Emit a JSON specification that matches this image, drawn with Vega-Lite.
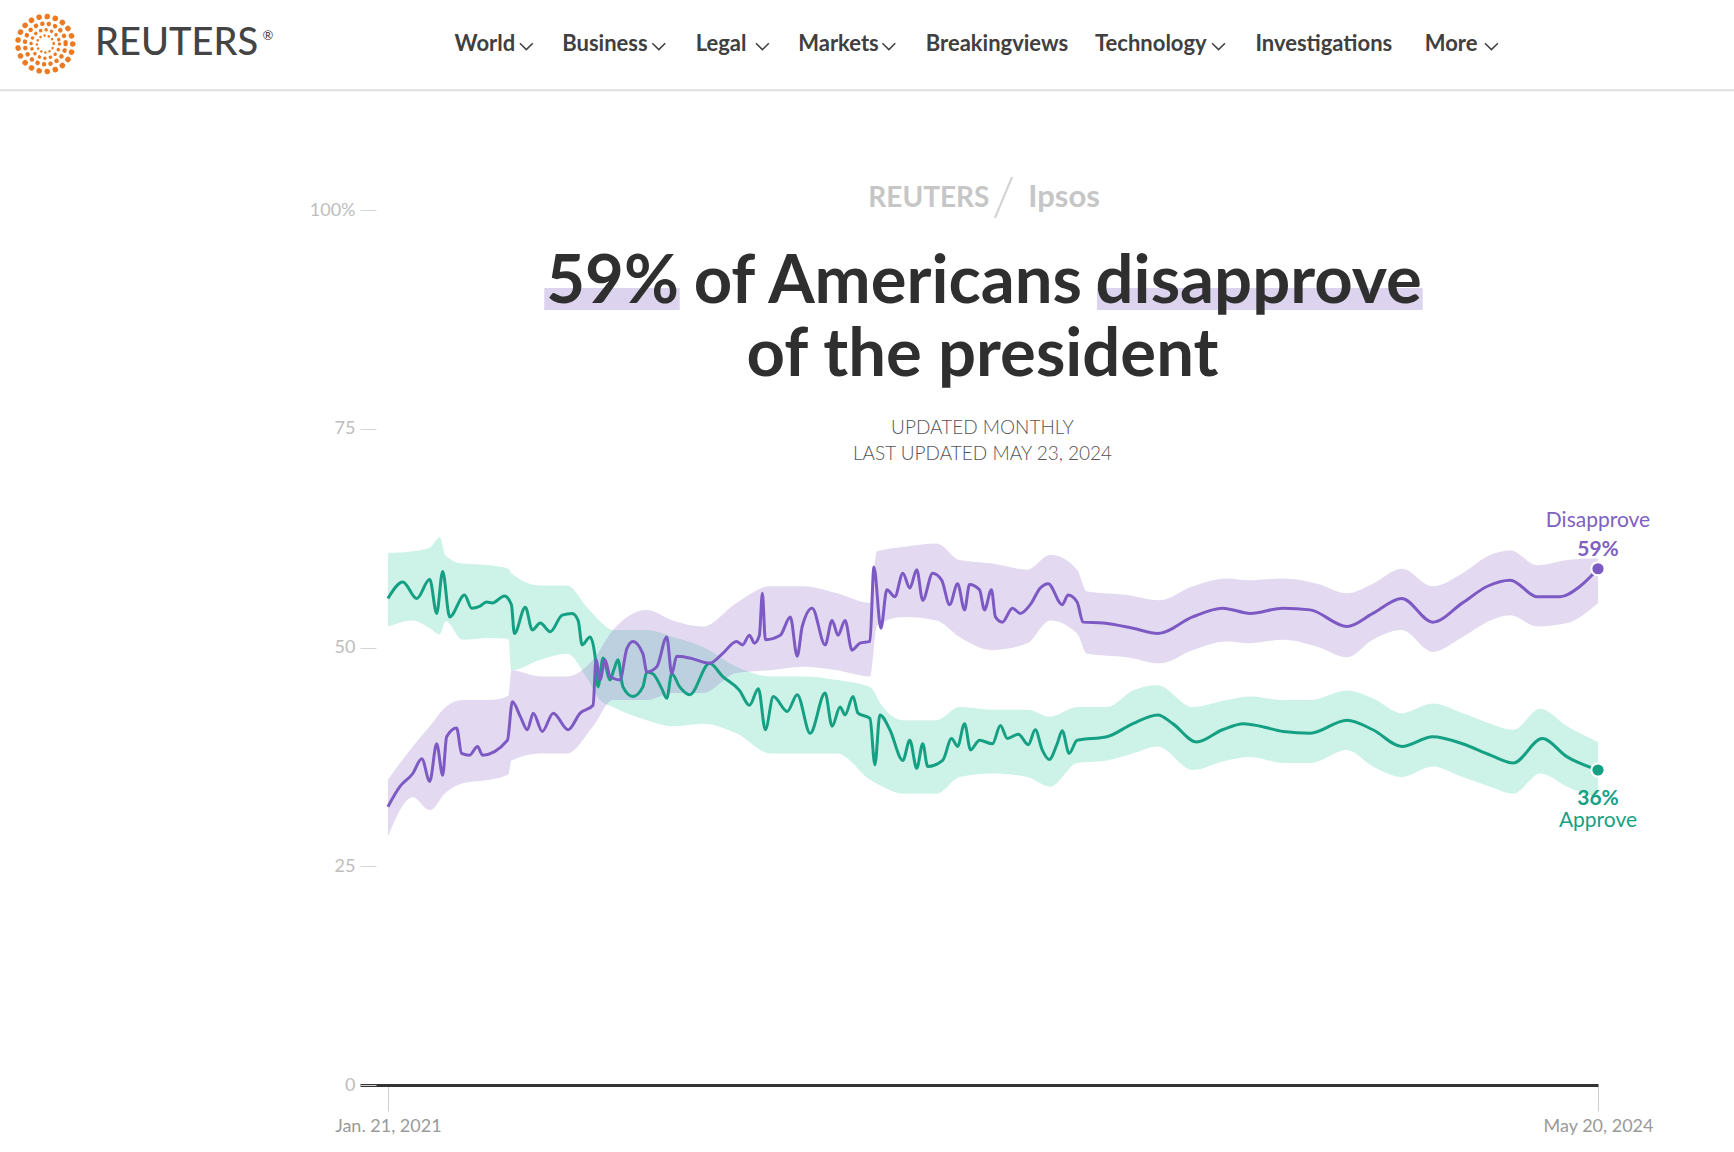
{
  "$schema": "https://vega.github.io/schema/vega-lite/v6.json",
  "width": 1238,
  "height": 875,
  "autosize": {"type": "none"},
  "padding": {"left": 360, "top": 210, "right": 136, "bottom": 67},
  "background": "white",
  "config": {"font": "Lato", "view": {"stroke": null}},
  "datasets": {
    "approve": [
      {"date": "2021-01-21", "value": 55.6}, {"date": "2021-02-05", "value": 57.5}, {"date": "2021-02-19", "value": 55.6},
      {"date": "2021-03-04", "value": 57.8}, {"date": "2021-03-11", "value": 53.9}, {"date": "2021-03-17", "value": 58.7},
      {"date": "2021-03-24", "value": 53.5}, {"date": "2021-04-08", "value": 56.0}, {"date": "2021-04-15", "value": 54.5},
      {"date": "2021-04-23", "value": 54.7}, {"date": "2021-04-30", "value": 55.2}, {"date": "2021-05-06", "value": 55.1},
      {"date": "2021-05-18", "value": 55.9}, {"date": "2021-05-25", "value": 54.9}, {"date": "2021-05-28", "value": 51.6},
      {"date": "2021-06-08", "value": 54.6}, {"date": "2021-06-15", "value": 52.0}, {"date": "2021-06-23", "value": 52.8},
      {"date": "2021-07-03", "value": 51.8}, {"date": "2021-07-15", "value": 53.7}, {"date": "2021-07-25", "value": 53.9},
      {"date": "2021-07-31", "value": 53.1}, {"date": "2021-08-04", "value": 50.3}, {"date": "2021-08-12", "value": 51.2},
      {"date": "2021-08-17", "value": 49.0}, {"date": "2021-08-20", "value": 45.5}, {"date": "2021-08-25", "value": 48.8},
      {"date": "2021-09-01", "value": 46.3}, {"date": "2021-09-05", "value": 47.5}, {"date": "2021-09-09", "value": 48.6},
      {"date": "2021-09-14", "value": 45.5}, {"date": "2021-09-24", "value": 44.4}, {"date": "2021-10-04", "value": 45.5},
      {"date": "2021-10-08", "value": 47.2}, {"date": "2021-10-14", "value": 47.0}, {"date": "2021-10-23", "value": 45.3},
      {"date": "2021-10-28", "value": 44.2}, {"date": "2021-11-02", "value": 47.0}, {"date": "2021-11-10", "value": 45.5},
      {"date": "2021-11-20", "value": 44.6}, {"date": "2021-12-10", "value": 48.2}, {"date": "2021-12-23", "value": 46.7},
      {"date": "2022-01-09", "value": 45.1}, {"date": "2022-01-19", "value": 43.4}, {"date": "2022-01-28", "value": 45.3},
      {"date": "2022-02-04", "value": 40.6}, {"date": "2022-02-12", "value": 44.4}, {"date": "2022-02-26", "value": 42.7},
      {"date": "2022-03-08", "value": 44.6}, {"date": "2022-03-21", "value": 40.2}, {"date": "2022-04-05", "value": 44.8},
      {"date": "2022-04-12", "value": 41.0}, {"date": "2022-04-20", "value": 43.2}, {"date": "2022-04-25", "value": 42.3},
      {"date": "2022-05-03", "value": 44.4}, {"date": "2022-05-08", "value": 42.5}, {"date": "2022-05-20", "value": 41.9},
      {"date": "2022-05-25", "value": 36.6}, {"date": "2022-05-30", "value": 42.3}, {"date": "2022-06-09", "value": 40.6},
      {"date": "2022-06-22", "value": 37.1}, {"date": "2022-06-29", "value": 39.4}, {"date": "2022-07-06", "value": 36.2},
      {"date": "2022-07-12", "value": 39.0}, {"date": "2022-07-17", "value": 36.4}, {"date": "2022-08-01", "value": 37.1},
      {"date": "2022-08-10", "value": 39.6}, {"date": "2022-08-16", "value": 38.7}, {"date": "2022-08-23", "value": 41.3},
      {"date": "2022-08-29", "value": 38.3}, {"date": "2022-09-07", "value": 39.4}, {"date": "2022-09-20", "value": 39.0},
      {"date": "2022-09-28", "value": 41.1}, {"date": "2022-10-05", "value": 39.6}, {"date": "2022-10-16", "value": 40.1},
      {"date": "2022-10-26", "value": 38.9}, {"date": "2022-11-02", "value": 40.6}, {"date": "2022-11-09", "value": 38.3},
      {"date": "2022-11-16", "value": 37.2}, {"date": "2022-11-24", "value": 39.0}, {"date": "2022-11-29", "value": 40.5},
      {"date": "2022-12-06", "value": 37.9}, {"date": "2022-12-14", "value": 39.4}, {"date": "2023-01-13", "value": 39.8},
      {"date": "2023-02-08", "value": 41.3}, {"date": "2023-03-05", "value": 42.3}, {"date": "2023-03-20", "value": 41.3},
      {"date": "2023-04-13", "value": 39.2}, {"date": "2023-05-09", "value": 40.6}, {"date": "2023-05-30", "value": 41.3},
      {"date": "2023-06-16", "value": 41.0}, {"date": "2023-07-09", "value": 40.4}, {"date": "2023-08-05", "value": 40.2},
      {"date": "2023-09-11", "value": 41.7}, {"date": "2023-10-07", "value": 40.6}, {"date": "2023-11-05", "value": 38.7},
      {"date": "2023-12-06", "value": 39.8}, {"date": "2024-01-05", "value": 39.0}, {"date": "2024-02-02", "value": 37.7},
      {"date": "2024-02-25", "value": 36.8}, {"date": "2024-03-25", "value": 39.6}, {"date": "2024-04-19", "value": 37.5},
      {"date": "2024-05-20", "value": 36.0}
    ],
    "disapprove": [
      {"date": "2021-01-21", "value": 31.8}, {"date": "2021-02-02", "value": 34.1}, {"date": "2021-02-15", "value": 35.6},
      {"date": "2021-02-24", "value": 37.3}, {"date": "2021-03-04", "value": 34.7}, {"date": "2021-03-11", "value": 39.0},
      {"date": "2021-03-17", "value": 35.4}, {"date": "2021-03-21", "value": 39.8}, {"date": "2021-03-31", "value": 40.8},
      {"date": "2021-04-05", "value": 37.9}, {"date": "2021-04-13", "value": 37.7}, {"date": "2021-04-21", "value": 38.7},
      {"date": "2021-04-26", "value": 37.7}, {"date": "2021-05-21", "value": 39.4}, {"date": "2021-05-26", "value": 43.8},
      {"date": "2021-06-03", "value": 42.1}, {"date": "2021-06-10", "value": 40.6}, {"date": "2021-06-16", "value": 42.5},
      {"date": "2021-06-25", "value": 40.4}, {"date": "2021-07-06", "value": 42.5}, {"date": "2021-07-21", "value": 40.6},
      {"date": "2021-08-02", "value": 42.5}, {"date": "2021-08-15", "value": 43.4}, {"date": "2021-08-18", "value": 48.6},
      {"date": "2021-08-22", "value": 46.3}, {"date": "2021-08-27", "value": 48.6}, {"date": "2021-09-01", "value": 46.7},
      {"date": "2021-09-11", "value": 46.3}, {"date": "2021-09-18", "value": 49.9}, {"date": "2021-09-24", "value": 50.7},
      {"date": "2021-10-04", "value": 49.3}, {"date": "2021-10-08", "value": 47.2}, {"date": "2021-10-18", "value": 47.8},
      {"date": "2021-10-28", "value": 51.2}, {"date": "2021-11-02", "value": 47.0}, {"date": "2021-11-07", "value": 49.0},
      {"date": "2021-11-20", "value": 48.8}, {"date": "2021-12-10", "value": 48.2}, {"date": "2021-12-23", "value": 49.3},
      {"date": "2022-01-06", "value": 50.7}, {"date": "2022-01-12", "value": 50.3}, {"date": "2022-01-19", "value": 51.4},
      {"date": "2022-01-24", "value": 50.5}, {"date": "2022-01-29", "value": 51.4}, {"date": "2022-02-01", "value": 56.2},
      {"date": "2022-02-04", "value": 50.9}, {"date": "2022-02-19", "value": 51.4}, {"date": "2022-03-01", "value": 53.5},
      {"date": "2022-03-08", "value": 49.0}, {"date": "2022-03-13", "value": 52.4}, {"date": "2022-03-23", "value": 54.5},
      {"date": "2022-04-05", "value": 50.3}, {"date": "2022-04-12", "value": 53.1}, {"date": "2022-04-18", "value": 51.4},
      {"date": "2022-04-25", "value": 53.1}, {"date": "2022-05-02", "value": 49.7}, {"date": "2022-05-10", "value": 50.5},
      {"date": "2022-05-20", "value": 50.7}, {"date": "2022-05-24", "value": 59.2}, {"date": "2022-05-31", "value": 52.2},
      {"date": "2022-06-06", "value": 56.6}, {"date": "2022-06-14", "value": 55.8}, {"date": "2022-06-22", "value": 58.5},
      {"date": "2022-06-29", "value": 56.8}, {"date": "2022-07-06", "value": 58.9}, {"date": "2022-07-12", "value": 55.4},
      {"date": "2022-07-22", "value": 58.5}, {"date": "2022-07-31", "value": 57.7}, {"date": "2022-08-08", "value": 54.9},
      {"date": "2022-08-16", "value": 57.3}, {"date": "2022-08-23", "value": 54.3}, {"date": "2022-08-28", "value": 57.2},
      {"date": "2022-09-07", "value": 56.6}, {"date": "2022-09-12", "value": 54.3}, {"date": "2022-09-19", "value": 56.6},
      {"date": "2022-09-23", "value": 53.5}, {"date": "2022-09-30", "value": 52.9}, {"date": "2022-10-10", "value": 54.5},
      {"date": "2022-10-18", "value": 53.9}, {"date": "2022-10-28", "value": 54.9}, {"date": "2022-11-07", "value": 56.8},
      {"date": "2022-11-15", "value": 57.3}, {"date": "2022-11-29", "value": 54.9}, {"date": "2022-12-05", "value": 56.0},
      {"date": "2022-12-14", "value": 55.2}, {"date": "2022-12-20", "value": 52.9}, {"date": "2023-01-09", "value": 52.8},
      {"date": "2023-02-08", "value": 52.2}, {"date": "2023-03-05", "value": 51.6}, {"date": "2023-04-09", "value": 53.5},
      {"date": "2023-05-09", "value": 54.5}, {"date": "2023-06-06", "value": 53.9}, {"date": "2023-07-09", "value": 54.5},
      {"date": "2023-08-05", "value": 54.3}, {"date": "2023-09-11", "value": 52.4}, {"date": "2023-10-07", "value": 53.9},
      {"date": "2023-11-05", "value": 55.6}, {"date": "2023-12-06", "value": 52.9}, {"date": "2024-01-05", "value": 55.1},
      {"date": "2024-01-30", "value": 57.0}, {"date": "2024-02-22", "value": 57.7}, {"date": "2024-03-20", "value": 55.8},
      {"date": "2024-04-12", "value": 55.8}, {"date": "2024-05-02", "value": 57.0}, {"date": "2024-05-20", "value": 59.0}
    ],
    "approve_band": [
      {"date": "2021-01-21", "lo": 52.4, "hi": 60.8}, {"date": "2021-02-15", "lo": 53.1, "hi": 61.0},
      {"date": "2021-03-04", "lo": 52.2, "hi": 61.4}, {"date": "2021-03-14", "lo": 51.5, "hi": 62.6},
      {"date": "2021-03-20", "lo": 53.0, "hi": 60.5}, {"date": "2021-04-06", "lo": 50.9, "hi": 59.6},
      {"date": "2021-05-03", "lo": 51.1, "hi": 59.4}, {"date": "2021-05-22", "lo": 51.0, "hi": 59.0},
      {"date": "2021-05-25", "lo": 47.4, "hi": 58.5}, {"date": "2021-06-23", "lo": 48.6, "hi": 57.1},
      {"date": "2021-07-20", "lo": 49.3, "hi": 57.1}, {"date": "2021-08-09", "lo": 46.5, "hi": 54.6},
      {"date": "2021-08-22", "lo": 44.0, "hi": 53.0}, {"date": "2021-09-04", "lo": 43.2, "hi": 52.0},
      {"date": "2021-10-08", "lo": 41.7, "hi": 52.0}, {"date": "2021-11-03", "lo": 41.0, "hi": 51.2},
      {"date": "2021-12-03", "lo": 41.3, "hi": 50.1}, {"date": "2022-01-06", "lo": 40.2, "hi": 47.8},
      {"date": "2022-02-09", "lo": 37.9, "hi": 46.7}, {"date": "2022-03-14", "lo": 37.9, "hi": 46.7},
      {"date": "2022-04-17", "lo": 37.9, "hi": 46.3}, {"date": "2022-05-20", "lo": 34.9, "hi": 45.5},
      {"date": "2022-06-02", "lo": 34.1, "hi": 43.2}, {"date": "2022-06-22", "lo": 33.3, "hi": 41.7},
      {"date": "2022-07-26", "lo": 33.3, "hi": 41.7}, {"date": "2022-08-18", "lo": 35.2, "hi": 43.2},
      {"date": "2022-09-20", "lo": 35.6, "hi": 42.9}, {"date": "2022-10-25", "lo": 35.2, "hi": 42.9},
      {"date": "2022-11-17", "lo": 34.1, "hi": 42.1}, {"date": "2022-12-14", "lo": 36.8, "hi": 43.2},
      {"date": "2023-01-13", "lo": 37.1, "hi": 43.2}, {"date": "2023-02-08", "lo": 37.9, "hi": 45.1},
      {"date": "2023-03-05", "lo": 38.7, "hi": 45.7}, {"date": "2023-04-09", "lo": 36.0, "hi": 43.2},
      {"date": "2023-05-13", "lo": 37.1, "hi": 44.0}, {"date": "2023-06-06", "lo": 37.5, "hi": 44.4},
      {"date": "2023-07-09", "lo": 36.8, "hi": 44.0}, {"date": "2023-08-05", "lo": 36.8, "hi": 44.0},
      {"date": "2023-09-11", "lo": 38.3, "hi": 45.1}, {"date": "2023-10-07", "lo": 36.4, "hi": 44.2},
      {"date": "2023-11-05", "lo": 35.2, "hi": 42.5}, {"date": "2023-12-06", "lo": 36.4, "hi": 43.6},
      {"date": "2024-01-05", "lo": 35.2, "hi": 42.5}, {"date": "2024-02-02", "lo": 34.1, "hi": 41.3},
      {"date": "2024-02-25", "lo": 33.3, "hi": 40.6}, {"date": "2024-03-23", "lo": 35.6, "hi": 43.0},
      {"date": "2024-04-19", "lo": 34.1, "hi": 41.0}, {"date": "2024-05-20", "lo": 32.8, "hi": 39.2}
    ],
    "disapprove_band": [
      {"date": "2021-01-21", "lo": 28.4, "hi": 34.9}, {"date": "2021-02-15", "lo": 32.9, "hi": 38.7},
      {"date": "2021-03-04", "lo": 31.4, "hi": 41.0}, {"date": "2021-03-20", "lo": 33.4, "hi": 43.2},
      {"date": "2021-04-06", "lo": 34.5, "hi": 44.0}, {"date": "2021-05-03", "lo": 34.9, "hi": 44.0},
      {"date": "2021-05-22", "lo": 35.5, "hi": 44.5}, {"date": "2021-05-25", "lo": 37.1, "hi": 47.4},
      {"date": "2021-06-23", "lo": 37.9, "hi": 46.7}, {"date": "2021-07-20", "lo": 37.9, "hi": 46.7},
      {"date": "2021-08-15", "lo": 41.0, "hi": 48.6}, {"date": "2021-09-04", "lo": 44.0, "hi": 52.0},
      {"date": "2021-10-08", "lo": 44.0, "hi": 54.3}, {"date": "2021-11-03", "lo": 44.8, "hi": 53.1},
      {"date": "2021-12-03", "lo": 44.8, "hi": 52.4}, {"date": "2022-01-06", "lo": 47.1, "hi": 55.1},
      {"date": "2022-02-09", "lo": 47.4, "hi": 57.0}, {"date": "2022-03-14", "lo": 47.8, "hi": 57.0},
      {"date": "2022-04-17", "lo": 47.4, "hi": 56.2}, {"date": "2022-05-20", "lo": 46.7, "hi": 55.1},
      {"date": "2022-05-27", "lo": 52.5, "hi": 61.0}, {"date": "2022-06-22", "lo": 53.5, "hi": 61.5},
      {"date": "2022-07-26", "lo": 53.1, "hi": 61.9}, {"date": "2022-08-18", "lo": 51.2, "hi": 60.0},
      {"date": "2022-09-20", "lo": 49.7, "hi": 59.6}, {"date": "2022-10-25", "lo": 50.5, "hi": 58.9},
      {"date": "2022-11-17", "lo": 53.1, "hi": 60.6}, {"date": "2022-12-14", "lo": 51.6, "hi": 58.9},
      {"date": "2022-12-24", "lo": 49.3, "hi": 56.4}, {"date": "2023-02-02", "lo": 48.9, "hi": 56.0},
      {"date": "2023-03-07", "lo": 48.2, "hi": 55.4}, {"date": "2023-04-09", "lo": 49.7, "hi": 57.0},
      {"date": "2023-05-13", "lo": 50.7, "hi": 57.9}, {"date": "2023-06-06", "lo": 50.5, "hi": 57.7},
      {"date": "2023-07-09", "lo": 50.9, "hi": 57.9}, {"date": "2023-08-12", "lo": 50.1, "hi": 57.3},
      {"date": "2023-09-11", "lo": 48.9, "hi": 56.2}, {"date": "2023-10-07", "lo": 50.9, "hi": 57.3},
      {"date": "2023-11-05", "lo": 52.0, "hi": 59.0}, {"date": "2023-12-06", "lo": 49.5, "hi": 57.0},
      {"date": "2024-01-05", "lo": 51.2, "hi": 58.5}, {"date": "2024-02-02", "lo": 53.1, "hi": 60.6},
      {"date": "2024-02-22", "lo": 53.7, "hi": 61.1}, {"date": "2024-03-20", "lo": 52.4, "hi": 59.4},
      {"date": "2024-04-19", "lo": 52.8, "hi": 60.0}, {"date": "2024-05-20", "lo": 55.1, "hi": 60.2}
    ]
  },
  "layer": [
    {
      "data": {"name": "approve_band"},
      "mark": {"type": "area", "interpolate": "monotone", "color": "#2fc8a0", "opacity": 0.24},
      "encoding": {
        "x": {
          "field": "date", "type": "temporal",
          "scale": {"type": "utc", "domain": [{"year": 2020, "month": 12, "date": 24, "utc": true}, {"year": 2024, "month": 5, "date": 20, "utc": true}]},
          "axis": {
            "title": null, "grid": false,
            "values": [{"year": 2021, "month": 1, "date": 21, "utc": true}, {"year": 2024, "month": 5, "date": 20, "utc": true}],
            "labelExpr": "utcFormat(datum.value, '%b') + (utcmonth(datum.value) == 4 ? ' ' : '. ') + utcFormat(datum.value, '%-d, %Y')",
            "labelFlush": false, "labelOverlap": false, "labelFont": "Lato", "labelFontSize": 18, "labelColor": "#9a9a9a", "labelPadding": 6,
            "tickColor": "#cfcfcf", "tickSize": 26, "tickWidth": 1,
            "domain": true, "domainColor": "#333333", "domainWidth": 3
          }
        },
        "y": {
          "field": "lo", "type": "quantitative",
          "scale": {"domain": [0, 100], "nice": false, "zero": false},
          "axis": {
            "title": null, "grid": false, "domain": false, "orient": "left", "offset": -16,
            "values": [0, 25, 50, 75, 100],
            "labelExpr": "datum.value == 100 ? '100%' : datum.label",
            "labelFont": "Lato", "labelFontSize": 18, "labelColor": "#bdbdbd", "labelPadding": 5,
            "tickSize": 16, "tickColor": "#d5d5d5", "tickWidth": 1
          }
        },
        "y2": {"field": "hi"}
      }
    },
    {
      "data": {"name": "disapprove_band"},
      "mark": {"type": "area", "interpolate": "monotone", "color": "#7e57c2", "opacity": 0.22},
      "encoding": {
        "x": {"field": "date", "type": "temporal"},
        "y": {"field": "lo", "type": "quantitative"},
        "y2": {"field": "hi"}
      }
    },
    {
      "data": {"name": "approve"},
      "mark": {"type": "line", "interpolate": "monotone", "color": "#15a083", "strokeWidth": 3},
      "encoding": {
        "x": {"field": "date", "type": "temporal"},
        "y": {"field": "value", "type": "quantitative"}
      }
    },
    {
      "data": {"name": "disapprove"},
      "mark": {"type": "line", "interpolate": "monotone", "color": "#7d5ac3", "strokeWidth": 3},
      "encoding": {
        "x": {"field": "date", "type": "temporal"},
        "y": {"field": "value", "type": "quantitative"}
      }
    },
    {
      "data": {"name": "approve"},
      "transform": [{"filter": "+toDate(datum.date) >= utc(2024, 4, 19)"}],
      "mark": {"type": "point", "filled": true, "size": 175, "color": "#15a083", "stroke": "white", "strokeWidth": 2, "opacity": 1},
      "encoding": {
        "x": {"field": "date", "type": "temporal"},
        "y": {"field": "value", "type": "quantitative"}
      }
    },
    {
      "data": {"name": "disapprove"},
      "transform": [{"filter": "+toDate(datum.date) >= utc(2024, 4, 19)"}],
      "mark": {"type": "point", "filled": true, "size": 175, "color": "#7d5ac3", "stroke": "white", "strokeWidth": 2, "opacity": 1},
      "encoding": {
        "x": {"field": "date", "type": "temporal"},
        "y": {"field": "value", "type": "quantitative"}
      }
    },
    {
      "data": {"values": [{}]},
      "mark": {"type": "text", "text": "Disapprove", "align": "center", "baseline": "alphabetic", "fontSize": 21, "color": "#8060c0"},
      "encoding": {"x": {"datum": {"year": 2024, "month": 5, "date": 20, "utc": true}, "type": "temporal"}, "y": {"datum": 63.8, "type": "quantitative"}}
    },
    {
      "data": {"values": [{}]},
      "mark": {"type": "text", "text": "59%", "align": "center", "baseline": "alphabetic", "fontSize": 21, "fontWeight": "bold", "color": "#8060c0"},
      "encoding": {"x": {"datum": {"year": 2024, "month": 5, "date": 20, "utc": true}, "type": "temporal"}, "y": {"datum": 60.46, "type": "quantitative"}}
    },
    {
      "data": {"values": [{}]},
      "mark": {"type": "text", "text": "36%", "align": "center", "baseline": "alphabetic", "fontSize": 21, "fontWeight": "bold", "color": "#17a184"},
      "encoding": {"x": {"datum": {"year": 2024, "month": 5, "date": 20, "utc": true}, "type": "temporal"}, "y": {"datum": 32.0, "type": "quantitative"}}
    },
    {
      "data": {"values": [{}]},
      "mark": {"type": "text", "text": "Approve", "align": "center", "baseline": "alphabetic", "fontSize": 21, "color": "#17a184"},
      "encoding": {"x": {"datum": {"year": 2024, "month": 5, "date": 20, "utc": true}, "type": "temporal"}, "y": {"datum": 29.52, "type": "quantitative"}}
    },
    {
      "data": {"values": [{}]},
      "mark": {"type": "rect", "color": "#dcd3ef"},
      "encoding": {
        "x": {"datum": {"year": 2021, "month": 6, "date": 27, "utc": true}, "type": "temporal"},
        "x2": {"datum": {"year": 2021, "month": 11, "date": 10, "utc": true}},
        "y": {"datum": 91.09, "type": "quantitative"},
        "y2": {"datum": 88.57}
      }
    },
    {
      "data": {"values": [{}]},
      "mark": {"type": "rect", "color": "#dcd3ef"},
      "encoding": {
        "x": {"datum": {"year": 2023, "month": 1, "date": 3, "utc": true}, "type": "temporal"},
        "x2": {"datum": {"year": 2023, "month": 11, "date": 26, "utc": true}},
        "y": {"datum": 91.09, "type": "quantitative"},
        "y2": {"datum": 88.57}
      }
    },
    {
      "data": {"values": [{}]},
      "mark": {"type": "text", "text": "59%", "align": "left", "baseline": "alphabetic", "fontSize": 67, "fontWeight": "bold", "color": "#2f2f2f"},
      "encoding": {"x": {"datum": {"year": 2021, "month": 6, "date": 29, "utc": true}, "type": "temporal"}, "y": {"datum": 89.35, "type": "quantitative"}}
    },
    {
      "data": {"values": [{}]},
      "mark": {"type": "text", "text": "of Americans", "align": "center", "baseline": "alphabetic", "fontSize": 67, "fontWeight": "bold", "color": "#2f2f2f"},
      "encoding": {"x": {"datum": {"year": 2022, "month": 6, "date": 7, "utc": true}, "type": "temporal"}, "y": {"datum": 89.35, "type": "quantitative"}}
    },
    {
      "data": {"values": [{}]},
      "mark": {"type": "text", "text": "disapprove", "align": "right", "baseline": "alphabetic", "fontSize": 67, "fontWeight": "bold", "color": "#2f2f2f"},
      "encoding": {"x": {"datum": {"year": 2023, "month": 11, "date": 25, "utc": true}, "type": "temporal"}, "y": {"datum": 89.35, "type": "quantitative"}}
    },
    {
      "data": {"values": [{}]},
      "mark": {"type": "text", "text": "of the president", "align": "center", "baseline": "alphabetic", "fontSize": 67, "fontWeight": "bold", "color": "#2f2f2f"},
      "encoding": {"x": {"datum": {"year": 2022, "month": 9, "date": 10, "utc": true}, "type": "temporal"}, "y": {"datum": 81.03, "type": "quantitative"}}
    },
    {
      "data": {"values": [{}]},
      "mark": {"type": "text", "text": "UPDATED MONTHLY", "align": "center", "baseline": "alphabetic", "fontSize": 19, "fontWeight": 300, "color": "#555555"},
      "encoding": {"x": {"datum": {"year": 2022, "month": 9, "date": 10, "utc": true}, "type": "temporal"}, "y": {"datum": 74.4, "type": "quantitative"}}
    },
    {
      "data": {"values": [{}]},
      "mark": {"type": "text", "text": "LAST UPDATED MAY 23, 2024", "align": "center", "baseline": "alphabetic", "fontSize": 19, "fontWeight": 300, "color": "#555555"},
      "encoding": {"x": {"datum": {"year": 2022, "month": 9, "date": 10, "utc": true}, "type": "temporal"}, "y": {"datum": 71.43, "type": "quantitative"}}
    },
    {
      "data": {"values": [{}]},
      "mark": {"type": "text", "text": "REUTERS", "align": "right", "baseline": "alphabetic", "fontSize": 28, "fontWeight": "bold", "color": "#c6c6c6"},
      "encoding": {"x": {"datum": {"year": 2022, "month": 9, "date": 17, "utc": true}, "type": "temporal"}, "y": {"datum": 100.38, "type": "quantitative"}}
    },
    {
      "data": {"values": [{}]},
      "mark": {"type": "text", "text": "/", "align": "center", "baseline": "middle", "fontSize": 54, "fontWeight": 300, "color": "#d2d2d2"},
      "encoding": {"x": {"datum": {"year": 2022, "month": 10, "date": 1, "utc": true}, "type": "temporal"}, "y": {"datum": 101.3, "type": "quantitative"}}
    },
    {
      "data": {"values": [{}]},
      "mark": {"type": "text", "text": "Ipsos", "align": "left", "baseline": "alphabetic", "fontSize": 31, "fontWeight": "bold", "color": "#c6c6c6"},
      "encoding": {"x": {"datum": {"year": 2022, "month": 10, "date": 26, "utc": true}, "type": "temporal"}, "y": {"datum": 100.38, "type": "quantitative"}}
    },
    {
      "data": {"values": [{}]},
      "mark": {"type": "rule", "color": "#dedede", "strokeWidth": 2},
      "encoding": {
        "x": {"datum": {"year": 2019, "month": 12, "date": 1, "utc": true}, "type": "temporal"},
        "x2": {"datum": {"year": 2024, "month": 12, "date": 31, "utc": true}},
        "y": {"datum": 113.7, "type": "quantitative"}
      }
    },
    {
      "data": {"values": [{}]},
      "mark": {"type": "point", "shape": "circle", "filled": false, "opacity": 1, "stroke": "#ec7a23", "strokeWidth": 5.5, "strokeDash": [0.1, 8.1], "strokeCap": "round", "size": 3019},
      "encoding": {"x": {"datum": {"year": 2020, "month": 2, "date": 12, "utc": true}, "type": "temporal"}, "y": {"datum": 118.97, "type": "quantitative"}}
    },
    {
      "data": {"values": [{}]},
      "mark": {"type": "point", "shape": "circle", "filled": false, "opacity": 1, "stroke": "#ec7a23", "strokeWidth": 4.5, "strokeDash": [0.1, 6.5], "strokeCap": "round", "size": 1662},
      "encoding": {"x": {"datum": {"year": 2020, "month": 2, "date": 12, "utc": true}, "type": "temporal"}, "y": {"datum": 118.97, "type": "quantitative"}}
    },
    {
      "data": {"values": [{}]},
      "mark": {"type": "point", "shape": "circle", "filled": false, "opacity": 1, "stroke": "#ec7a23", "strokeWidth": 3.5, "strokeDash": [0.1, 5.5], "strokeCap": "round", "size": 804},
      "encoding": {"x": {"datum": {"year": 2020, "month": 2, "date": 12, "utc": true}, "type": "temporal"}, "y": {"datum": 118.97, "type": "quantitative"}}
    },
    {
      "data": {"values": [{}]},
      "mark": {"type": "point", "shape": "circle", "filled": false, "opacity": 1, "stroke": "#ec7a23", "strokeWidth": 2.5, "strokeDash": [0.1, 4.2], "strokeCap": "round", "size": 284},
      "encoding": {"x": {"datum": {"year": 2020, "month": 2, "date": 12, "utc": true}, "type": "temporal"}, "y": {"datum": 118.97, "type": "quantitative"}}
    },
    {
      "data": {"values": [{}]},
      "mark": {"type": "text", "text": "REUTERS", "align": "left", "baseline": "middle", "fontSize": 38, "fontWeight": 500, "color": "#444444"},
      "encoding": {"x": {"datum": {"year": 2020, "month": 4, "date": 2, "utc": true}, "type": "temporal"}, "y": {"datum": 118.97, "type": "quantitative"}}
    },
    {
      "data": {"values": [{}]},
      "mark": {"type": "text", "text": "®", "align": "left", "baseline": "middle", "fontSize": 13, "color": "#444444"},
      "encoding": {"x": {"datum": {"year": 2020, "month": 9, "date": 17, "utc": true}, "type": "temporal"}, "y": {"datum": 119.9, "type": "quantitative"}}
    },
    {
      "data": {"values": [{}]},
      "mark": {"type": "text", "text": "World", "align": "left", "baseline": "middle", "fontSize": 22, "fontWeight": "bold", "color": "#404040"},
      "encoding": {"x": {"datum": {"year": 2021, "month": 3, "date": 29, "utc": true}, "type": "temporal"}, "y": {"datum": 118.97, "type": "quantitative"}}
    },
    {
      "data": {"values": [{}]},
      "mark": {"type": "text", "text": "Business", "align": "left", "baseline": "middle", "fontSize": 22, "fontWeight": "bold", "color": "#404040"},
      "encoding": {"x": {"datum": {"year": 2021, "month": 7, "date": 15, "utc": true}, "type": "temporal"}, "y": {"datum": 118.97, "type": "quantitative"}}
    },
    {
      "data": {"values": [{}]},
      "mark": {"type": "text", "text": "Legal", "align": "left", "baseline": "middle", "fontSize": 22, "fontWeight": "bold", "color": "#404040"},
      "encoding": {"x": {"datum": {"year": 2021, "month": 11, "date": 26, "utc": true}, "type": "temporal"}, "y": {"datum": 118.97, "type": "quantitative"}}
    },
    {
      "data": {"values": [{}]},
      "mark": {"type": "text", "text": "Markets", "align": "left", "baseline": "middle", "fontSize": 22, "fontWeight": "bold", "color": "#404040"},
      "encoding": {"x": {"datum": {"year": 2022, "month": 3, "date": 9, "utc": true}, "type": "temporal"}, "y": {"datum": 118.97, "type": "quantitative"}}
    },
    {
      "data": {"values": [{}]},
      "mark": {"type": "text", "text": "Breakingviews", "align": "left", "baseline": "middle", "fontSize": 22, "fontWeight": "bold", "color": "#404040"},
      "encoding": {"x": {"datum": {"year": 2022, "month": 7, "date": 15, "utc": true}, "type": "temporal"}, "y": {"datum": 118.97, "type": "quantitative"}}
    },
    {
      "data": {"values": [{}]},
      "mark": {"type": "text", "text": "Technology", "align": "left", "baseline": "middle", "fontSize": 22, "fontWeight": "bold", "color": "#404040"},
      "encoding": {"x": {"datum": {"year": 2023, "month": 1, "date": 1, "utc": true}, "type": "temporal"}, "y": {"datum": 118.97, "type": "quantitative"}}
    },
    {
      "data": {"values": [{}]},
      "mark": {"type": "text", "text": "Investigations", "align": "left", "baseline": "middle", "fontSize": 22, "fontWeight": "bold", "color": "#404040"},
      "encoding": {"x": {"datum": {"year": 2023, "month": 6, "date": 11, "utc": true}, "type": "temporal"}, "y": {"datum": 118.97, "type": "quantitative"}}
    },
    {
      "data": {"values": [{}]},
      "mark": {"type": "text", "text": "More", "align": "left", "baseline": "middle", "fontSize": 22, "fontWeight": "bold", "color": "#404040"},
      "encoding": {"x": {"datum": {"year": 2023, "month": 11, "date": 28, "utc": true}, "type": "temporal"}, "y": {"datum": 118.97, "type": "quantitative"}}
    },
    {
      "data": {"values": [{}]},
      "mark": {"type": "point", "shape": "M-1,-0.5L0,0.5L1,-0.5", "filled": false, "opacity": 1, "stroke": "#404040", "strokeWidth": 1.5, "size": 165},
      "encoding": {"x": {"datum": {"year": 2021, "month": 6, "date": 9, "utc": true}, "type": "temporal"}, "y": {"datum": 118.7, "type": "quantitative"}}
    },
    {
      "data": {"values": [{}]},
      "mark": {"type": "point", "shape": "M-1,-0.5L0,0.5L1,-0.5", "filled": false, "opacity": 1, "stroke": "#404040", "strokeWidth": 1.5, "size": 165},
      "encoding": {"x": {"datum": {"year": 2021, "month": 10, "date": 20, "utc": true}, "type": "temporal"}, "y": {"datum": 118.7, "type": "quantitative"}}
    },
    {
      "data": {"values": [{}]},
      "mark": {"type": "point", "shape": "M-1,-0.5L0,0.5L1,-0.5", "filled": false, "opacity": 1, "stroke": "#404040", "strokeWidth": 1.5, "size": 165},
      "encoding": {"x": {"datum": {"year": 2022, "month": 2, "date": 1, "utc": true}, "type": "temporal"}, "y": {"datum": 118.7, "type": "quantitative"}}
    },
    {
      "data": {"values": [{}]},
      "mark": {"type": "point", "shape": "M-1,-0.5L0,0.5L1,-0.5", "filled": false, "opacity": 1, "stroke": "#404040", "strokeWidth": 1.5, "size": 165},
      "encoding": {"x": {"datum": {"year": 2022, "month": 6, "date": 8, "utc": true}, "type": "temporal"}, "y": {"datum": 118.7, "type": "quantitative"}}
    },
    {
      "data": {"values": [{}]},
      "mark": {"type": "point", "shape": "M-1,-0.5L0,0.5L1,-0.5", "filled": false, "opacity": 1, "stroke": "#404040", "strokeWidth": 1.5, "size": 165},
      "encoding": {"x": {"datum": {"year": 2023, "month": 5, "date": 5, "utc": true}, "type": "temporal"}, "y": {"datum": 118.7, "type": "quantitative"}}
    },
    {
      "data": {"values": [{}]},
      "mark": {"type": "point", "shape": "M-1,-0.5L0,0.5L1,-0.5", "filled": false, "opacity": 1, "stroke": "#404040", "strokeWidth": 1.5, "size": 165},
      "encoding": {"x": {"datum": {"year": 2024, "month": 2, "date": 3, "utc": true}, "type": "temporal"}, "y": {"datum": 118.7, "type": "quantitative"}}
    }
  ]
}
